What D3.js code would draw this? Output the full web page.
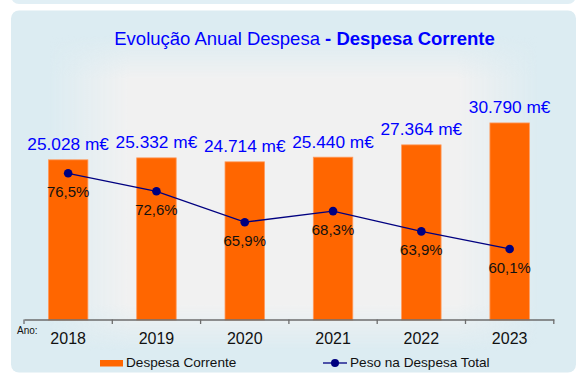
<!DOCTYPE html>
<html>
<head>
<meta charset="utf-8">
<script src="https://cdn.jsdelivr.net/npm/d3@7"></script>
<style>
  html, body { margin: 0; padding: 0; background: #ffffff; }
  svg { display: block; }
  text { font-family: "Liberation Sans", Arial, sans-serif; }
</style>
</head>
<body>
<svg id="chart" width="577" height="374"></svg>
<script>
// Annual current expenditure (thousand €) and its weight in total expenditure (%)
const years = ["2018", "2019", "2020", "2021", "2022", "2023"];
const despesaCorrente = [25028, 25332, 24714, 25440, 27364, 30790];
const pesoDespesaTotal = [76.5, 72.6, 65.9, 68.3, 63.9, 60.1];
const seriesNames = ["Despesa Corrente", "Peso na Despesa Total"];
const titleRegular = "Evolução Anual Despesa";
const titleBold = " - Despesa Corrente";
const axisCaption = "Ano:";

const W = 577, H = 374;
const svg = d3.select("#chart");
const defs = svg.append("defs");

const ptLocale = d3.formatLocale({ decimal: ",", thousands: ".", grouping: [3], currency: ["", "€"] });
const fmtValue = v => ptLocale.format(",.0f")(v) + " m€";
const fmtPct = v => ptLocale.format(".1f")(v) + "%";

const BLUE_BG = "#dcecf2";
const GRAY_BG = "#f1f1f1";

// Panel geometry
const panel = { x: 11, y: 10.5, w: 565, h: 362 };

// Horizontal and vertical fade masks give the panel a rectangular center-to-edge gradient
const gx = defs.append("linearGradient").attr("id", "gx").attr("x1", 0).attr("x2", 1).attr("y1", 0).attr("y2", 0);
[[0, "#000"], [0.064, "#000"], [0.21, "#fff"], [0.79, "#fff"], [0.936, "#000"], [1, "#000"]]
  .forEach(([o, c]) => gx.append("stop").attr("offset", o).attr("stop-color", c));
const gy = defs.append("linearGradient").attr("id", "gy").attr("x1", 0).attr("x2", 0).attr("y1", 0).attr("y2", 1);
[[0, "#000"], [0.068, "#000"], [0.19, "#fff"], [0.81, "#fff"], [0.94, "#000"], [1, "#000"]]
  .forEach(([o, c]) => gy.append("stop").attr("offset", o).attr("stop-color", c));

defs.append("mask").attr("id", "mx").attr("maskUnits", "userSpaceOnUse")
  .attr("x", 0).attr("y", 0).attr("width", W).attr("height", H)
  .append("rect").attr("x", panel.x).attr("y", panel.y).attr("width", panel.w).attr("height", panel.h).attr("fill", "url(#gx)");
defs.append("mask").attr("id", "my").attr("maskUnits", "userSpaceOnUse")
  .attr("x", 0).attr("y", 0).attr("width", W).attr("height", H)
  .append("rect").attr("x", panel.x).attr("y", panel.y).attr("width", panel.w).attr("height", panel.h).attr("fill", "url(#gy)");

// Edge of the panel above
svg.append("rect").attr("x", panel.x).attr("y", -20).attr("width", panel.w).attr("height", 24)
  .attr("rx", 8).attr("fill", "#e1eff5");

// Main panel
svg.append("rect").attr("x", panel.x).attr("y", panel.y).attr("width", panel.w).attr("height", panel.h)
  .attr("rx", 8).attr("fill", BLUE_BG);
svg.append("g").attr("mask", "url(#my)")
  .append("rect").attr("x", panel.x).attr("y", panel.y).attr("width", panel.w).attr("height", panel.h)
  .attr("fill", GRAY_BG).attr("mask", "url(#mx)");

// Title
const title = svg.append("text").attr("x", 304.5).attr("y", 44.5).attr("text-anchor", "middle")
  .attr("font-size", 18.5).attr("fill", "#0000ff");
title.append("tspan").text(titleRegular);
title.append("tspan").attr("font-weight", "bold").text(titleBold);

// Scales
const plotTop = 96, plotBottom = 320;
const x = d3.scaleBand().domain(years).range([24, 553.8]).padding(0);
const y = d3.scaleLinear().domain([0, 35000]).range([plotBottom, plotTop]);
const yPct = d3.scaleLinear().domain([44.7, 93.25]).range([plotBottom, plotTop]);
const barW = x.bandwidth() * 0.447;
const cx = d => x(d) + x.bandwidth() / 2;

const rows = years.map((yr, i) => ({ year: yr, value: despesaCorrente[i], pct: pesoDespesaTotal[i] }));

// Bars
svg.append("g").selectAll("rect").data(rows).join("rect")
  .attr("x", d => cx(d.year) - barW / 2)
  .attr("y", d => y(d.value))
  .attr("width", barW)
  .attr("height", d => y(0) - y(d.value))
  .attr("fill", "#ff6600")
  .attr("stroke", "#ff9a5c").attr("stroke-width", 0.8);

// Value labels above bars
svg.append("g").selectAll("text").data(rows).join("text")
  .attr("x", d => cx(d.year))
  .attr("y", d => y(d.value) - 9.5)
  .attr("text-anchor", "middle")
  .attr("font-size", 17.3)
  .attr("fill", "#0000ff")
  .text(d => fmtValue(d.value));

// X axis
const axis = svg.append("g").attr("transform", `translate(0,${plotBottom - 0.5})`)
  .call(d3.axisBottom(x).tickSize(0).tickFormat(""));
axis.select(".domain").attr("stroke", "#6d6d6d").attr("stroke-width", 1.3);
const boundaries = years.map(yr => x(yr)).concat([x.range()[1]]);
axis.selectAll(".bound").data(boundaries).join("line").attr("class", "bound")
  .attr("x1", d => d).attr("x2", d => d).attr("y1", 0).attr("y2", 4.5)
  .attr("stroke", "#6d6d6d").attr("stroke-width", 1.3);

svg.append("g").selectAll("text").data(years).join("text")
  .attr("x", d => cx(d)).attr("y", 344)
  .attr("text-anchor", "middle").attr("font-size", 16).attr("fill", "#111")
  .text(d => d);

svg.append("text").attr("x", 17).attr("y", 333.5).attr("font-size", 10).attr("fill", "#111").text(axisCaption);

// Weight line with markers
const line = d3.line().x(d => cx(d.year)).y(d => yPct(d.pct));
svg.append("path").datum(rows).attr("d", line)
  .attr("fill", "none").attr("stroke", "#000080").attr("stroke-width", 1.3);
svg.append("g").selectAll("circle").data(rows).join("circle")
  .attr("cx", d => cx(d.year)).attr("cy", d => yPct(d.pct)).attr("r", 4.3)
  .attr("fill", "#000080");
svg.append("g").selectAll("text").data(rows).join("text")
  .attr("x", d => cx(d.year)).attr("y", d => yPct(d.pct) + 23.8)
  .attr("text-anchor", "middle").attr("font-size", 15).attr("fill", "#111")
  .text(d => fmtPct(d.pct));

// Legend
const legend = svg.append("g");
legend.append("rect").attr("x", 100).attr("y", 360).attr("width", 23).attr("height", 6.5).attr("fill", "#ff6600");
legend.append("text").attr("x", 126).attr("y", 367).attr("font-size", 13.6).attr("fill", "#111").text(seriesNames[0]);
legend.append("line").attr("x1", 323).attr("x2", 347).attr("y1", 363).attr("y2", 363)
  .attr("stroke", "#000080").attr("stroke-width", 1.3);
legend.append("circle").attr("cx", 335).attr("cy", 363).attr("r", 4).attr("fill", "#000080");
legend.append("text").attr("x", 350).attr("y", 367).attr("font-size", 13.6).attr("fill", "#111").text(seriesNames[1]);
</script>
</body>
</html>
